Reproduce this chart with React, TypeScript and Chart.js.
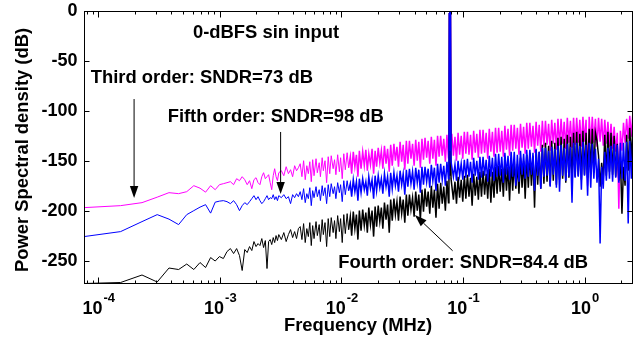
import React, { useEffect, useRef } from "react";
import { Chart, registerables } from "chart.js";

Chart.register(...registerables);

// FFT set-up: bin 1 sits on the left edge, fs/2 on the right edge
const FS_MHZ = 5;
const NFFT = 65536;
const BIN_MHZ = FS_MHZ / NFFT;

// FFT bin indices that were sampled from the picture
const bins: number[] = [
  1, 2, 3, 4, 5, 6, 7, 8, 9, 10, 11, 12, 13, 14, 15, 16, 17, 18, 19, 20,
  21, 22, 23, 24, 25, 26, 27, 28, 29, 30, 31, 32, 33, 34, 35, 36, 37, 38, 39, 40,
  42, 44, 46, 48, 50, 52, 54, 56, 58,
  60, 62, 64, 66, 68, 70, 72, 74, 76, 78, 81, 83, 86, 88, 91, 93, 96, 99, 102, 105,
  108, 112, 115, 118, 122, 126, 129, 133, 137, 141, 146, 150, 155, 159, 164, 169, 174, 179, 184, 190,
  196, 202, 208, 214, 220, 227, 234, 241, 248, 255, 263, 271, 279, 287, 296, 305, 314, 324, 333, 343,
  354, 364, 375, 386, 398, 410, 422, 435, 448, 461, 475, 489, 504, 519, 535, 551, 567, 584, 602, 620,
  638, 658, 677, 698, 719, 740, 762, 785, 809, 833, 858, 884, 910, 938, 966, 995,
  1004, 1012, 1018, 1024, 1030, 1036, 1044,
  1060, 1092, 1125, 1158, 1193, 1229, 1266, 1304, 1343, 1383,
  1425, 1467, 1511, 1557, 1603, 1652, 1701, 1752, 1805, 1859,
  1915, 1972, 2031, 2092, 2155, 2220, 2286, 2355, 2425, 2498,
  2573, 2650, 2730, 2812, 2896, 2983, 3072, 3164, 3259, 3357,
  3458, 3562, 3669, 3779, 3892, 4009, 4129, 4253, 4380, 4512,
  4647, 4787, 4930, 5078, 5230, 5387, 5549, 5715, 5887, 6063,
  6245, 6433, 6626, 6825, 7029, 7240, 7457, 7681, 7911, 8149,
  8393, 8645, 8904, 9172, 9447, 9730, 10022, 10323, 10632, 10951,
  11280, 11618, 11967, 12326, 12696, 13076, 13469, 13873, 14289, 14718,
  15159, 15614, 16082, 16565, 17062, 17574, 18101, 18644, 19203, 19779,
  20373, 20984, 21613, 22262, 22930, 23618, 24326, 25056, 25808, 26582,
  27379, 28201, 29047, 29918, 30816, 31740, 32692, 32768,
];

// Third order modulator (magenta), dB
const thirdOrderDb: number[] = [
  -197, -195, -192, -186.5, -182, -183, -181, -175, -177.5, -181.5, -175, -179, -174, -173,
  -172, -171, -174, -168, -170, -166, -169, -174, -170, -178, -169, -167, -172, -174, -166, -162,
  -168, -166, -164, -172, -179, -165, -158, -166, -170, -162,
  -160, -165, -156, -163, -159, -166, -155, -160, -157,
  -153, -166, -150, -169, -155, -163, -151, -171, -149, -165,
  -148, -162, -152, -166, -147, -160, -150, -172, -146, -163,
  -145, -158, -149, -164, -144, -161, -147, -168, -143, -159,
  -142, -157, -146, -163, -141, -156, -144, -166, -140, -158,
  -141, -155, -139, -160, -143, -154, -138, -163, -140, -156,
  -137, -152, -140, -158, -135, -153, -138, -161, -134, -155,
  -133, -150, -136, -156, -131, -151, -134, -159, -130, -153,
  -130, -148, -133, -155, -129, -150, -131, -157, -128, -149,
  -127, -147, -130, -153, -126, -148, -129, -155, -125, -146,
  -125, -145, -128, -151, -124, -147,
  -124, -2, -124, 0, -124, -2, -124,
  -123, -145, -126, -150, -122, -144, -125, -148, -121, -143,
  -121, -144, -124, -149, -120, -142, -123, -147, -119, -143,
  -119, -142, -122, -148, -118, -141, -121, -146, -117, -142,
  -117, -141, -120, -146, -115, -139, -118, -145, -114, -140,
  -114, -138, -117, -144, -113, -137, -116, -143, -112, -138,
  -112, -136, -115, -142, -111, -135, -114, -141, -110, -136,
  -110, -134, -113, -140, -109, -133, -112, -139, -108, -135,
  -108, -133, -111, -138, -107, -132, -110, -137, -107, -134,
  -107, -132, -109, -136, -106, -131, -109, -175, -106, -133,
  -106, -132, -108, -136, -107, -131, -108, -135, -109, -133,
  -111, -136, -113, -138, -116, -141, -122, -198, -120, -140,
  -112, -132, -108, -128, -105, -126, -102, -103,
];

// Fourth order modulator (black), dB
const fourthOrderDb: number[] = [
  -273, -272, -264.5, -271.5, -257.5, -259, -253.5, -259, -252, -257, -247, -250.5, -246, -248,
  -241, -238, -243, -238, -245, -260, -239, -242, -236, -240, -231, -236, -233, -235, -228, -237,
  -230, -258, -231, -229, -234, -227, -232, -225, -230, -224,
  -229, -222, -231, -224, -219, -227, -221, -228, -218,
  -216, -229, -213, -232, -218, -226, -212, -235, -215, -228,
  -211, -225, -214, -231, -209, -224, -212, -236, -208, -226,
  -207, -222, -210, -228, -205, -221, -208, -232, -204, -223,
  -203, -219, -206, -225, -201, -218, -204, -229, -200, -220,
  -199, -215, -202, -222, -197, -214, -200, -226, -196, -216,
  -195, -211, -197, -218, -192, -209, -194, -222, -189, -210,
  -188, -204, -191, -210, -186, -203, -189, -212, -184, -205,
  -184, -199, -187, -206, -181, -200, -184, -209, -179, -201,
  -178, -196, -181, -203, -175, -197, -179, -207, -173, -198,
  -172, -193, -176, -200, -170, -192,
  -170, -2, -165, 0, -165, -2, -168,
  -168, -189, -171, -193, -166, -187, -169, -191, -165, -188,
  -164, -186, -167, -195, -163, -185, -166, -189, -161, -186,
  -160, -184, -163, -188, -158, -192, -161, -187, -156, -183,
  -155, -181, -158, -186, -153, -180, -156, -190, -151, -180,
  -150, -178, -153, -183, -147, -177, -150, -188, -144, -177,
  -142, -175, -145, -197, -139, -174, -141, -178, -134, -173,
  -132, -171, -135, -175, -130, -170, -132, -174, -127, -169,
  -126, -168, -128, -172, -124, -167, -126, -171, -122, -166,
  -121, -165, -123, -169, -120, -164, -122, -167, -118, -163,
  -118, -162, -122, -130, -145, -176, -152, -170, -124, -165,
  -121, -161, -122, -164, -125, -166, -133, -170, -146, -203,
  -156, -175, -124, -160, -117, -150, -113, -114,
];

// Fifth order modulator (blue), dB
const fifthOrderDb: number[] = [
  -226, -221, -211, -204, -208.5, -214, -204, -200, -196.5, -194, -202.5, -191.5, -190.5, -190,
  -191, -193, -190, -194, -200, -195, -192, -194, -191, -188, -185, -189, -186, -190, -193, -191,
  -188, -185, -189, -187, -188, -184, -189, -186, -190, -185,
  -187, -184, -188, -186, -193, -184, -187, -183, -186,
  -181, -189, -178, -192, -183, -188, -177, -195, -180, -187,
  -176, -186, -179, -190, -175, -185, -177, -193, -174, -186,
  -173, -183, -176, -188, -172, -182, -174, -191, -170, -184,
  -170, -180, -173, -186, -169, -181, -171, -190, -168, -182,
  -168, -179, -171, -185, -166, -178, -169, -188, -165, -180,
  -165, -177, -168, -183, -163, -176, -166, -186, -162, -178,
  -162, -175, -165, -181, -160, -174, -163, -184, -159, -176,
  -158, -173, -161, -179, -157, -172, -159, -182, -156, -174,
  -156, -171, -158, -177, -154, -170, -157, -180, -153, -172,
  -153, -169, -155, -175, -151, -168,
  -151, -2, -140, 0, -140, -2, -151,
  -151, -166, -154, -170, -150, -165, -153, -169, -149, -167,
  -148, -166, -151, -172, -147, -165, -150, -169, -146, -167,
  -146, -165, -149, -171, -145, -166, -147, -170, -143, -166,
  -143, -165, -146, -172, -142, -164, -145, -169, -141, -166,
  -141, -175, -144, -171, -140, -164, -143, -168, -139, -166,
  -139, -164, -142, -180, -138, -165, -141, -178, -137, -166,
  -137, -165, -140, -176, -136, -164, -138, -177, -135, -181,
  -134, -165, -137, -170, -133, -166, -136, -192, -132, -167,
  -132, -166, -135, -179, -131, -165, -134, -185, -132, -177,
  -133, -168, -138, -172, -148, -233, -156, -178, -141, -170,
  -137, -168, -135, -171, -133, -167, -134, -172, -132, -168,
  -132, -170, -131, -213, -130, -168, -128, -129,
];

const yTickValues = [0, -50, -100, -150, -200, -250];
const xDecadeExponents = [-4, -3, -2, -1, 0];
const X_MIN = BIN_MHZ;
const X_MAX = FS_MHZ / 2;
const Y_MIN = -273;
const Y_MAX = 0;
// above this frequency the spectrum is a dense band of bins
const DENSE_FROM_MHZ = 150 * BIN_MHZ;

// Annotations, anchored in data units (MHz, dB)
const noteTexts = [
  { text: "0-dBFS sin input", f: 6.01e-4, db: -22 },
  { text: "Third order: SNDR=73 dB", f: 8.66e-5, db: -66.8 },
  { text: "Fifth order: SNDR=98 dB", f: 3.72e-4, db: -106.5 },
  { text: "Fourth order: SNDR=84.4 dB", f: 9.41e-3, db: -252.8 },
];
const noteArrows = [
  { f0: 1.97e-4, db0: -88.2, f1: 1.97e-4, db1: -187.4 },
  { f0: 3.16e-3, db0: -121.2, f1: 3.16e-3, db1: -183.4 },
  { f0: 0.0821, db0: -240.2, f1: 0.0402, db1: -204.4 },
];

const FONT = '"Liberation Sans", Arial, Helvetica, sans-serif';

function drawArrow(ctx: CanvasRenderingContext2D, x0: number, y0: number, x1: number, y1: number) {
  const head = 12;
  const half = 4.2;
  const ang = Math.atan2(y1 - y0, x1 - x0);
  const bx = x1 - head * Math.cos(ang);
  const by = y1 - head * Math.sin(ang);
  ctx.beginPath();
  ctx.moveTo(x0, y0);
  ctx.lineTo(bx, by);
  ctx.stroke();
  ctx.beginPath();
  ctx.moveTo(x1, y1);
  ctx.lineTo(bx + half * Math.sin(ang), by - half * Math.cos(ang));
  ctx.lineTo(bx - half * Math.sin(ang), by + half * Math.cos(ang));
  ctx.closePath();
  ctx.fill();
}

const overlayPlugin = {
  id: "matlabOverlay",
  afterDraw(chart: any) {
    const { ctx, chartArea: a, scales } = chart;
    const xs = scales.x;
    const ys = scales.y;
    ctx.save();
    ctx.strokeStyle = "#000";
    ctx.fillStyle = "#000";
    ctx.lineWidth = 1;
    const L = Math.round(a.left) + 0.5;
    const R = Math.round(a.right) - 0.5;
    const T = Math.round(a.top) + 0.5;
    const B = Math.round(a.bottom) - 0.5;
    ctx.strokeRect(L, T, R - L, B - T);

    ctx.beginPath();
    yTickValues.forEach((v) => {
      const y = Math.round(ys.getPixelForValue(v)) + 0.5;
      ctx.moveTo(L, y);
      ctx.lineTo(L + 5, y);
      ctx.moveTo(R, y);
      ctx.lineTo(R - 5, y);
    });
    for (let e = -5; e <= 0; e++) {
      for (let m = 1; m <= 9; m++) {
        const v = m * Math.pow(10, e);
        if (v < X_MIN || v > X_MAX) continue;
        const x = Math.round(xs.getPixelForValue(v)) + 0.5;
        const len = m === 1 ? 6 : 3;
        ctx.moveTo(x, B);
        ctx.lineTo(x, B - len);
        ctx.moveTo(x, T);
        ctx.lineTo(x, T + len);
      }
    }
    ctx.stroke();

    // y tick labels
    ctx.font = `bold 18px ${FONT}`;
    ctx.textAlign = "right";
    ctx.textBaseline = "middle";
    yTickValues.forEach((v) => ctx.fillText(String(v), L - 7, ys.getPixelForValue(v)));

    // x tick labels: 10 with superscript exponent
    ctx.textAlign = "left";
    ctx.textBaseline = "alphabetic";
    xDecadeExponents.forEach((e) => {
      const x = xs.getPixelForValue(Math.pow(10, e));
      const exp = String(e);
      ctx.font = `bold 18px ${FONT}`;
      const wBase = ctx.measureText("10").width;
      ctx.font = `bold 13px ${FONT}`;
      const wExp = ctx.measureText(exp).width;
      const x0 = x - (wBase + wExp) / 2;
      ctx.font = `bold 18px ${FONT}`;
      ctx.fillText("10", x0, 314);
      ctx.font = `bold 13px ${FONT}`;
      ctx.fillText(exp, x0 + wBase + 1, 302);
    });

    // axis titles
    ctx.font = `bold 18.4px ${FONT}`;
    ctx.textAlign = "center";
    ctx.fillText("Frequency (MHz)", 358, 331);
    ctx.save();
    ctx.translate(28, 150);
    ctx.rotate(-Math.PI / 2);
    ctx.textBaseline = "alphabetic";
    ctx.fillText("Power Spectral density (dB)", 0, 0);
    ctx.restore();

    // annotations
    ctx.textAlign = "left";
    ctx.textBaseline = "middle";
    noteTexts.forEach((n) => {
      ctx.fillText(n.text, xs.getPixelForValue(n.f), ys.getPixelForValue(n.db));
    });
    noteArrows.forEach((n) => {
      drawArrow(
        ctx,
        xs.getPixelForValue(n.f0),
        ys.getPixelForValue(n.db0),
        xs.getPixelForValue(n.f1),
        ys.getPixelForValue(n.db1)
      );
    });
    ctx.restore();
  },
};

function toPoints(values: number[]) {
  return bins.map((k, i) => ({ x: k * BIN_MHZ, y: values[i] }));
}

const denseWidth = (c: any) => (c.p0.parsed.x >= DENSE_FROM_MHZ ? 1.5 : 1);

export default function App() {
  const ref = useRef<HTMLCanvasElement>(null);
  useEffect(() => {
    if (!ref.current) return;
    const chart = new Chart(ref.current, {
      type: "line",
      data: {
        datasets: [
          { label: "Fifth order", data: toPoints(fifthOrderDb), borderColor: "#0000ff", segment: { borderWidth: denseWidth } },
          { label: "Fourth order", data: toPoints(fourthOrderDb), borderColor: "#000000", segment: { borderWidth: denseWidth } },
          { label: "Third order", data: toPoints(thirdOrderDb), borderColor: "#ff00ff", segment: { borderWidth: denseWidth } },
        ],
      },
      options: {
        responsive: false,
        animation: false,
        parsing: false,
        normalized: true,
        events: [],
        layout: { padding: { left: 0, right: 4, top: 11, bottom: 0 } },
        elements: {
          point: { radius: 0 },
          line: { borderWidth: 1, tension: 0 },
        },
        plugins: {
          legend: { display: false },
          tooltip: { enabled: false },
          title: { display: false },
        },
        scales: {
          x: {
            type: "logarithmic",
            min: X_MIN,
            max: X_MAX,
            ticks: { display: false },
            grid: { display: false },
            border: { display: false },
            afterFit: (s: any) => {
              s.height = 55.5;
            },
          },
          y: {
            type: "linear",
            min: Y_MIN,
            max: Y_MAX,
            ticks: { display: false },
            grid: { display: false },
            border: { display: false },
            afterFit: (s: any) => {
              s.width = 84;
            },
          },
        },
      } as any,
      plugins: [overlayPlugin],
    });
    return () => chart.destroy();
  }, []);
  return (
    <div style={{ position: "fixed", left: 0, top: 0, width: 637, height: 339, background: "#fff" }}>
      <canvas ref={ref} width={637} height={339} style={{ display: "block", width: 637, height: 339 }} />
    </div>
  );
}
